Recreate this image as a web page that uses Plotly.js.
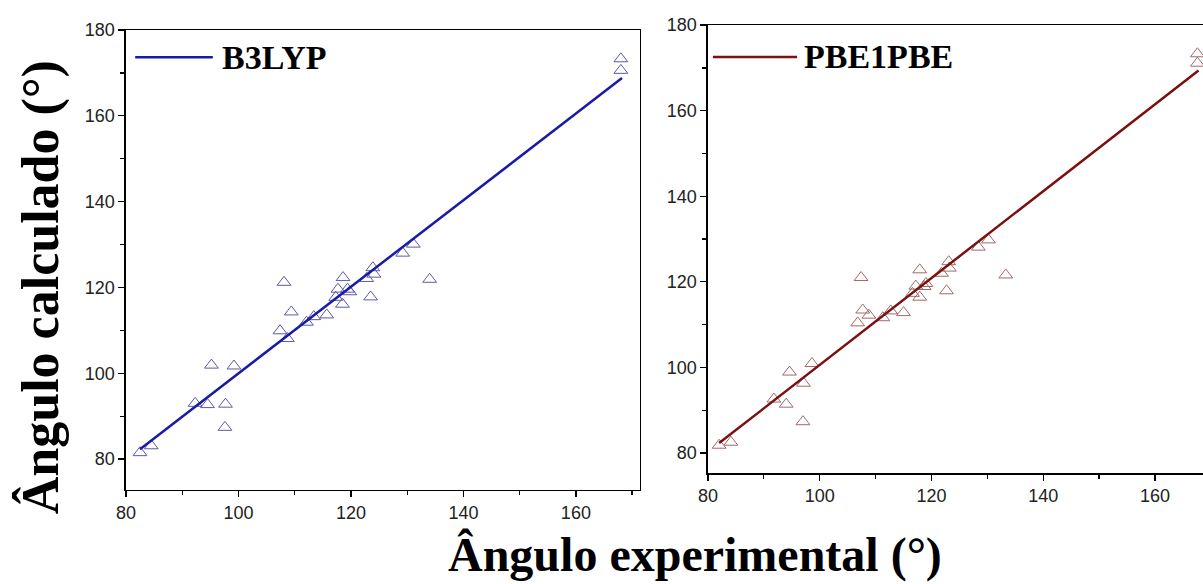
<!DOCTYPE html>
<html><head><meta charset="utf-8">
<script src="https://cdn.plot.ly/plotly-3.0.1.min.js"></script>
<style>html,body{margin:0;padding:0;background:#fff}</style>
</head><body><div id="chart" style="width:1203px;height:584px"></div>
<script>
// B3LYP: experimental vs calculated angles (degrees)
const b3lypExp = [82.5, 84.5, 92.3, 94.5, 95.2, 97.7, 97.6, 99.2, 107.4, 108.1, 108.7, 109.4, 112.1, 113.4, 115.7, 117.3, 117.7, 118.5, 118.6, 119.4, 119.8, 122.8, 123.5, 123.9, 124.1, 129.2, 131.1, 134.0, 168.0, 168.0];
const b3lypCalc = [81.5, 83.1, 93.0, 92.7, 101.9, 92.8, 87.4, 101.7, 109.9, 121.2, 108.1, 114.3, 111.9, 113.2, 113.6, 117.7, 119.6, 116.1, 122.3, 119.6, 119.0, 122.1, 117.8, 124.6, 123.1, 128.0, 130.1, 121.9, 173.3, 170.6];
const b3lypFitX = [82.5, 168.2];
const b3lypFitY = [82.3, 168.8];
// PBE1PBE
const pbeExp = [82.0, 84.1, 91.8, 94.0, 94.6, 97.1, 97.0, 98.6, 106.8, 107.4, 107.7, 108.8, 111.3, 112.7, 115.0, 116.6, 117.2, 117.9, 117.9, 118.7, 119.0, 121.8, 122.7, 123.1, 123.2, 128.4, 130.2, 133.3, 167.6, 167.6];
const pbeCalc = [81.8, 82.5, 92.6, 91.4, 98.9, 96.3, 87.3, 100.9, 110.4, 121.0, 113.4, 112.2, 111.6, 113.2, 112.8, 117.3, 119.0, 116.4, 122.8, 118.9, 119.6, 122.0, 117.9, 124.7, 123.2, 128.1, 129.8, 121.6, 173.3, 171.1];
const pbeFitX = [82.0, 167.8];
const pbeFitY = [82.3, 169.4];
const xTickVals = [80, 100, 120, 140, 160];
const yTickVals = [80, 100, 120, 140, 160, 180];
const seriesNames = ["B3LYP", "PBE1PBE"];
const xTitle = "Ângulo experimental (°)";
const yTitle = "Ângulo calculado (°)";

const blue = "#1a1aa6", blueMk = "#5b5ba8";
const red = "#7a1010", redMk = "#a06a6a";

const traces = [
  {x: b3lypExp, y: b3lypCalc, type: "scatter", mode: "markers", xaxis: "x", yaxis: "y",
   marker: {symbol: "triangle-up-open", size: 12, color: blueMk, line: {width: 1}}, showlegend: false},
  {x: b3lypFitX, y: b3lypFitY, type: "scatter", mode: "lines", xaxis: "x", yaxis: "y",
   line: {color: blue, width: 2.5}, showlegend: false},
  {x: pbeExp, y: pbeCalc, type: "scatter", mode: "markers", xaxis: "x2", yaxis: "y2",
   marker: {symbol: "triangle-up-open", size: 12, color: redMk, line: {width: 1}}, showlegend: false, cliponaxis: true},
  {x: pbeFitX, y: pbeFitY, type: "scatter", mode: "lines", xaxis: "x2", yaxis: "y2",
   line: {color: red, width: 2.5}, showlegend: false}
];

const tickFont = {family: "Liberation Sans, Arial, sans-serif", size: 18, color: "#222"};
function xa(domain, range, anchor) {
  return {domain: domain, range: range, anchor: anchor, tickvals: xTickVals, ticks: "outside", ticklen: 6, tickwidth: 1.3,
    tickcolor: "#000", showline: true, linecolor: "#000", linewidth: 1.5, mirror: true, showgrid: false, zeroline: false,
    tickfont: tickFont, minor: {dtick: 10, tick0: 80, ticks: "outside", ticklen: 4, tickcolor: "#000", showgrid: false}};
}
function ya(domain, range, anchor, mirror) {
  return {domain: domain, range: range, anchor: anchor, tickvals: yTickVals, ticks: "outside", ticklen: 6, tickwidth: 1.3,
    tickcolor: "#000", showline: true, linecolor: "#000", linewidth: 1.5, mirror: mirror, showgrid: false, zeroline: false,
    tickfont: tickFont, minor: {dtick: 10, tick0: 80, ticks: "outside", ticklen: 4, tickcolor: "#000", showgrid: false}};
}

const legFont = {family: "Liberation Serif, Times New Roman, serif", size: 34, color: "#000", weight: "bold"};
const layout = {
  width: 1203, height: 584, margin: {l: 0, r: 0, t: 0, b: 0},
  paper_bgcolor: "#fff", plot_bgcolor: "#fff", showlegend: false,
  xaxis: xa([0.1047, 0.532], [80, 171.4], "y"),
  yaxis: ya([0.161, 0.9486], [72.8, 180], "x", true),
  xaxis2: xa([0.5885, 1], [80, 168.6], "y2"),
  yaxis2: ya([0.19, 0.957], [75.3, 180], "x2", false),
  shapes: [
    {type: "line", xref: "x domain", yref: "y domain", x0: 0.018, x1: 0.169, y0: 0.941, y1: 0.941, line: {color: blue, width: 2.5}},
    {type: "line", xref: "x2 domain", yref: "y2 domain", x0: 0.01, x1: 0.18, y0: 0.929, y1: 0.929, line: {color: red, width: 2.5}}
  ],
  annotations: [
    {text: seriesNames[0], xref: "x domain", yref: "y domain", x: 0.183, y: 0.941, xanchor: "left", yanchor: "middle", showarrow: false, font: legFont},
    {text: seriesNames[1], xref: "x2 domain", yref: "y2 domain", x: 0.19, y: 0.929, xanchor: "left", yanchor: "middle", showarrow: false, font: legFont},
    {text: "<b>" + xTitle + "</b>", xref: "paper", yref: "paper", x: 0.578, y: 0.0, xanchor: "center", yanchor: "bottom", showarrow: false,
     font: {family: "Liberation Serif, Times New Roman, serif", size: 48, color: "#000"}},
    {text: "<b>" + yTitle + "</b>", xref: "paper", yref: "paper", x: 0.034, y: 0.508, xanchor: "center", yanchor: "middle", textangle: -90, showarrow: false,
     font: {family: "Liberation Serif, Times New Roman, serif", size: 52, color: "#000"}}
  ]
};

Plotly.newPlot("chart", traces, layout, {displayModeBar: false, staticPlot: true});
</script></body></html>
